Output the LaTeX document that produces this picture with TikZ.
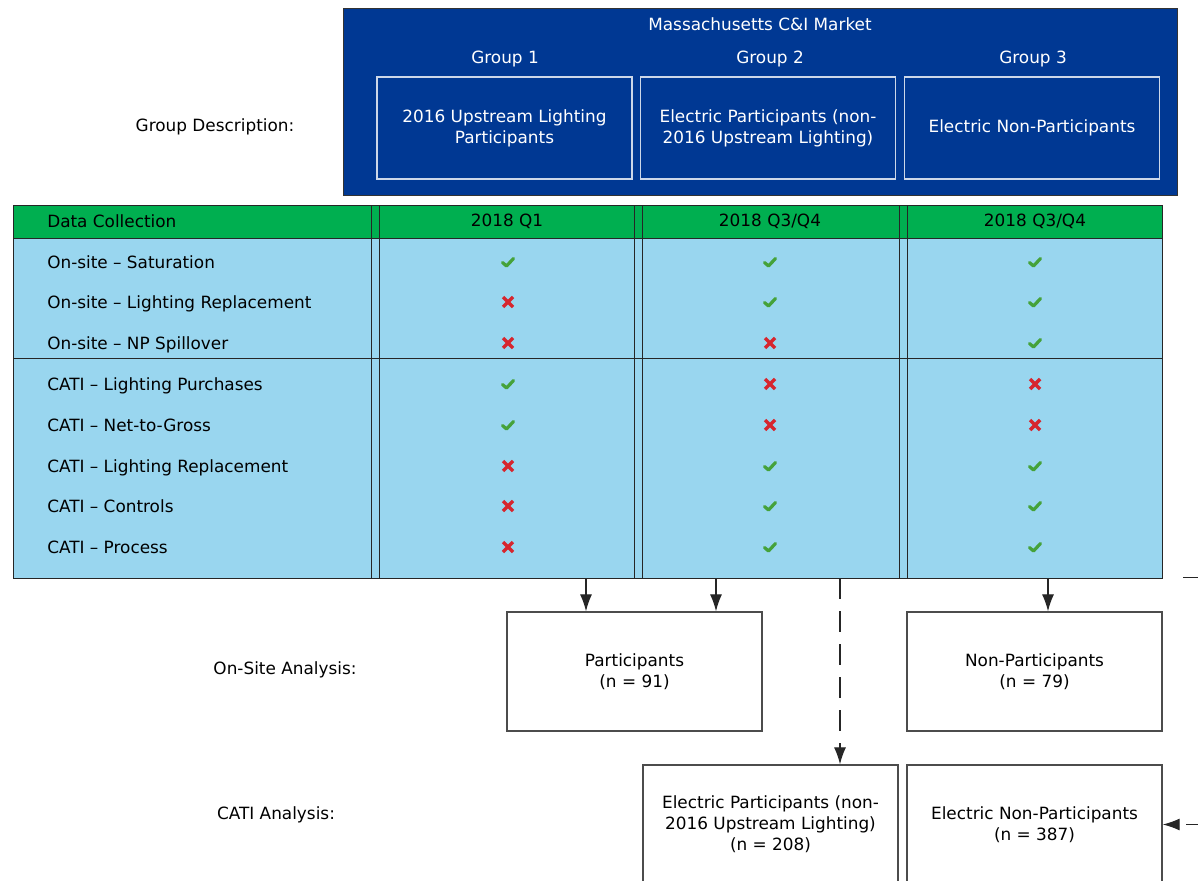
\documentclass[tikz,border=0pt]{standalone}
\usepackage{fontspec}
\setmainfont{DejaVu Sans}
\usetikzlibrary{arrows.meta}
\tikzset{>={Latex[length=12pt,width=8.5pt]}}
\definecolor{mablue}{HTML}{003893}
\definecolor{hdgreen}{HTML}{00AF50}
\definecolor{cellblue}{HTML}{99D6EF}
\definecolor{okgreen}{HTML}{45A23A}
\definecolor{nored}{HTML}{D6262E}

\begin{document}
\begin{tikzpicture}[x=0.025cm,y=-0.025cm,
  font=\fontsize{12}{15}\selectfont,
  txt/.style={inner sep=0pt,align=center},
  rowtxt/.style={txt,anchor=west,text height=8.8pt,text depth=2.6pt,yshift=-1.4pt},
  grpbox/.style={draw=white!80!mablue,line width=0.9pt,minimum width=6.375cm,
    minimum height=2.55cm,text=white,align=center,inner sep=0pt},
  anbox/.style={draw=black!70,line width=1pt,fill=white,minimum width=6.375cm,
    minimum height=2.975cm,align=center,inner sep=0pt},
  tline/.style={draw=black!85,line width=0.7pt},
  flow/.style={->,draw=black!85,line width=0.8pt},
  gap/.style={dash pattern=on 15pt off 8.5pt},
  yes/.pic={\draw[okgreen,line width=2.3pt,line cap=round,line join=round]
    (-5.5,0.5) -- (-1.5,4) -- (5.5,-3.5);},
  no/.pic={\draw[nored,line width=2.5pt] (-5,-5) -- (5,5) (-5,5) -- (5,-5);}]
  \clip (0,0) rectangle (1198,881);

  % 顶部分组
  \draw[draw=black!80,fill=mablue,line width=0.7pt] (343,8) rectangle (1177,195);
  \node[txt,text=white] (market) at (760,24) {Massachusetts C\&I Market};
  \node[txt,text=white] (g1) at (505,59) {Group 1};
  \node[txt,text=white] (g2) at (770,59) {Group 2};
  \node[txt,text=white] (g3) at (1033,59) {Group 3};
  \node[grpbox] (d1) at (504.5,128) {2016 Upstream Lighting\\Participants};
  \node[grpbox] (d2) at (768,128) {Electric Participants (non-\\2016 Upstream Lighting)};
  \node[grpbox] (d3) at (1032,128) {Electric Non-Participants};
  \node[txt] (gdesc) at (215,127) {Group Description:};

  % 数据收集表
  \fill[hdgreen] (13,205) rectangle (1162,238);
  \fill[cellblue] (13,238) rectangle (1162,578);
  \draw[tline] (13,205) rectangle (1162,578);
  \draw[tline] (13,238) -- (1162,238);
  \draw[tline] (13,358) -- (1162,358);
  \foreach \xa in {371,379,634,642,899,907}
    \draw[tline] (\xa,205) -- (\xa,578);

  \node[rowtxt] (hd1) at (47,221) {Data Collection};
  \node[txt] (hd2) at (507,221) {2018 Q1};
  \node[txt] (hd3) at (770,221) {2018 Q3/Q4};
  \node[txt] (hd4) at (1035,221) {2018 Q3/Q4};

  \foreach \yr/\lab [count=\i] in {262/On-site -- Saturation,
      302/On-site -- Lighting Replacement,
      343/On-site -- NP Spillover,
      384/CATI -- Lighting Purchases,
      425/CATI -- Net-to-Gross,
      466/CATI -- Lighting Replacement,
      506/CATI -- Controls,
      547/CATI -- Process}
    \node[rowtxt] (r\i) at (47,\yr) {\lab};

  % 勾与叉
  \foreach \yr/\ma/\mb/\mc in {262/yes/yes/yes,302/no/yes/yes,343/no/no/yes,
      384/yes/no/no,425/yes/no/no,466/no/yes/yes,506/no/yes/yes,547/no/yes/yes}{
    \pic at (508,\yr) {\ma};
    \pic at (770,\yr) {\mb};
    \pic at (1035,\yr) {\mc};
  }

  % 分析框
  \node[txt] (onsite) at (285,670) {On-Site Analysis:};
  \node[txt] (cati) at (276,815) {CATI Analysis:};
  \node[anbox] (part) at (634.5,671.5) {Participants\\(n = 91)};
  \node[anbox] (npart) at (1034.5,671.5) {Non-Participants\\(n = 79)};
  \node[anbox] (epart) at (770.5,824.5) {Electric Participants (non-\\2016 Upstream Lighting)\\(n = 208)};
  \node[anbox] (enpart) at (1034.5,824.5) {Electric Non-Participants\\(n = 387)};

  % 箭头
  \coordinate (tb1) at (586,578);
  \coordinate (tb2) at (716,578);
  \coordinate (tb3) at (840,578);
  \coordinate (tb4) at (1048,578);
  \coordinate (rin) at (1240,824.5);
  \coordinate (rs1) at (1183,577);
  \coordinate (rs2) at (1240,577);
  \draw[flow] (tb1) -- (tb1 |- part.north);
  \draw[flow] (tb2) -- (tb2 |- part.north);
  \draw[flow] (tb4) -- (tb4 |- npart.north);
  \draw[flow,gap] (tb3) -- (tb3 |- epart.north);
  \draw[flow,gap] (rin) -- (enpart.east);
  \draw[tline] (rs1) -- (rs2);
\end{tikzpicture}
\end{document}
